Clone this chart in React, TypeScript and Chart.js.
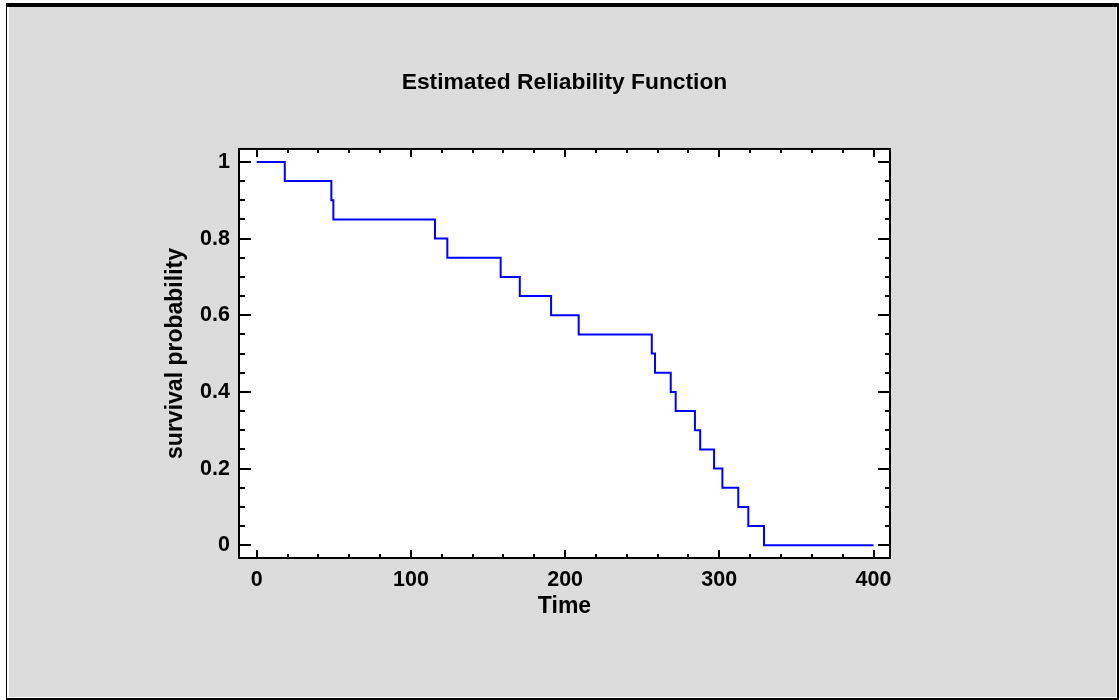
import React, { useEffect, useRef } from "react";
import { Chart, registerables } from "chart.js";

Chart.register(...registerables);

const times = [0, 18.2, 48.4, 49.7, 115.6, 123.6, 158.2, 170.6, 190.9, 208.8, 256.2, 258.3, 268.5, 271.7, 284.2, 287.6, 296.6, 302, 312.3, 318.8, 329, 400];
const survival = [1, 0.95, 0.9, 0.85, 0.8, 0.75, 0.7, 0.65, 0.6, 0.55, 0.5, 0.45, 0.4, 0.35, 0.3, 0.25, 0.2, 0.15, 0.1, 0.05, 0, 0];
const xMajorTicks = [0, 100, 200, 300, 400];
const yMajorTicks = [0, 0.2, 0.4, 0.6, 0.8, 1];
const xMinorStep = 20;
const yMinorStep = 0.05;

const FONT = "'Liberation Sans', Arial, sans-serif";

const framePlugin = {
  id: "framePlugin",
  beforeDatasetsDraw(chart: any) {
    const { ctx, chartArea: a } = chart;
    ctx.save();
    ctx.fillStyle = "#ffffff";
    ctx.fillRect(a.left, a.top, a.right - a.left, a.bottom - a.top);
    ctx.restore();
  },
  afterDraw(chart: any) {
    const { ctx, chartArea: a, scales } = chart;
    const xs = scales.x;
    const ys = scales.y;
    ctx.save();
    ctx.strokeStyle = "#000000";
    ctx.lineWidth = 2;
    ctx.beginPath();
    for (let v = 0; v <= 400 + 1e-9; v += xMinorStep) {
      const major = xMajorTicks.some((m) => Math.abs(m - v) < 1e-6);
      const len = major ? 8 : 4;
      const px = Math.round(xs.getPixelForValue(v));
      ctx.moveTo(px, a.bottom);
      ctx.lineTo(px, a.bottom - len);
      ctx.moveTo(px, a.top);
      ctx.lineTo(px, a.top + len);
    }
    for (let i = 0; i <= 20; i++) {
      const v = i * yMinorStep;
      const major = yMajorTicks.some((m) => Math.abs(m - v) < 1e-6);
      const py = Math.round(ys.getPixelForValue(v));
      ctx.moveTo(a.left, py);
      ctx.lineTo(a.left + (major ? 12 : 6), py);
      ctx.moveTo(a.right, py);
      ctx.lineTo(a.right - (major ? 12 : 5), py);
    }
    ctx.stroke();
    ctx.strokeRect(a.left, a.top, a.right - a.left, a.bottom - a.top);
    ctx.restore();
  },
};

export default function App() {
  const ref = useRef<HTMLCanvasElement>(null);
  useEffect(() => {
    if (!ref.current) return;
    const chart = new Chart(ref.current, {
      type: "line",
      data: {
        datasets: [
          {
            data: times.map((t, i) => ({ x: t, y: survival[i] })),
            borderColor: "#0000ff",
            borderWidth: 2,
            pointRadius: 0,
            stepped: "before",
            fill: false,
          },
        ],
      },
      plugins: [framePlugin],
      options: {
        animation: false,
        responsive: false,
        devicePixelRatio: 1,
        layout: { padding: { left: 0, top: 0, right: 229, bottom: 0 } },
        plugins: {
          legend: { display: false },
          tooltip: { enabled: false },
          title: {
            display: true,
            text: "Estimated Reliability Function",
            fullSize: false,
            color: "#000000",
            font: { family: FONT, size: 22.8, weight: "bold" },
            padding: { top: 69.3, bottom: 52.3 },
          },
        },
        scales: {
          x: {
            type: "linear",
            min: -11.5,
            max: 410.7,
            grid: { display: false, drawTicks: false },
            border: { display: false },
            afterBuildTicks: (s: any) => {
              s.ticks = xMajorTicks.map((v) => ({ value: v }));
            },
            afterFit: (s: any) => {
              s.height = 142;
            },
            ticks: {
              color: "#000000",
              padding: 9,
              maxRotation: 0,
              font: { family: FONT, size: 21.5, weight: "bold" },
            },
            title: {
              display: true,
              text: "Time",
              color: "#000000",
              font: { family: FONT, size: 23, weight: "bold" },
              padding: { top: 0, bottom: 79.2 },
            },
          },
          y: {
            type: "linear",
            min: -0.0332,
            max: 1.0339,
            grid: { display: false, drawTicks: false },
            border: { display: false },
            afterBuildTicks: (s: any) => {
              s.ticks = yMajorTicks.map((v) => ({ value: v }));
            },
            afterFit: (s: any) => {
              s.width = 239;
            },
            ticks: {
              color: "#000000",
              padding: 9,
              font: { family: FONT, size: 21.5, weight: "bold" },
              callback: (v: any) => String(Math.round(Number(v) * 10) / 10),
            },
            title: {
              display: true,
              text: "survival probability",
              color: "#000000",
              font: { family: FONT, size: 23, weight: "bold" },
              padding: { top: 162.2, bottom: 0 },
            },
          },
        },
      },
    });
    return () => chart.destroy();
  }, []);

  return (
    <div style={{ position: "fixed", left: 0, top: 0, width: 1119, height: 700, background: "#ffffff", overflow: "hidden" }}>
      <div
        style={{
          position: "absolute",
          left: 6,
          top: 3,
          width: 1113,
          height: 697,
          boxSizing: "border-box",
          borderTop: "4px solid #000",
          borderLeft: "1px solid #000",
          borderRight: "2px solid #000",
          borderBottom: "2px solid #000",
        }}
      >
        <div style={{ position: "absolute", left: 2, top: 0, right: 1, bottom: 1, background: "#dcdcdc" }} />
      </div>
      <canvas ref={ref} width={1119} height={700} style={{ position: "absolute", left: 0, top: 0, width: 1119, height: 700 }} />
    </div>
  );
}
